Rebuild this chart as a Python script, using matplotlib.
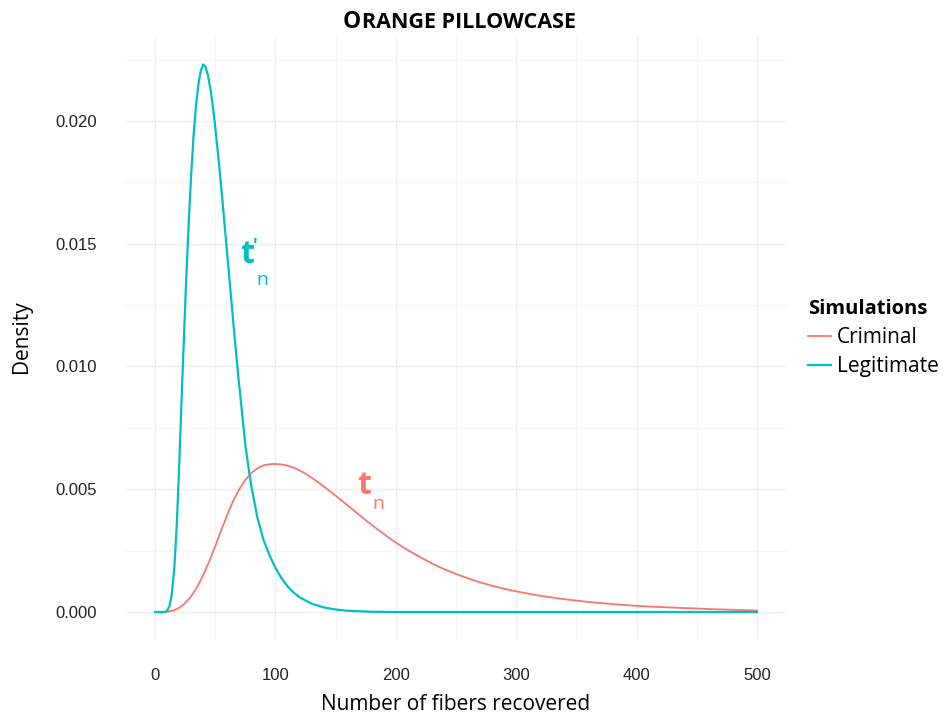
import matplotlib
matplotlib.use("Agg")
import matplotlib.pyplot as plt
from matplotlib.ticker import MultipleLocator

# Values
legit_x = [0, 8, 10, 12, 14, 16, 18, 20, 22, 24, 26, 28, 30, 32, 34, 36, 38, 40,
           42, 44, 46, 48, 50, 52, 54, 56, 58, 60, 62, 64, 66, 68, 70, 72, 75, 78,
           80, 85, 90, 95, 100, 105, 110, 115, 120, 130, 140, 150, 160, 180, 200,
           300, 400, 500]
legit_y = [0, 0, 0.00004, 0.00025, 0.00075, 0.0018, 0.0035, 0.0059, 0.0086, 0.0112,
           0.0137, 0.0159, 0.0178, 0.0194, 0.0206, 0.0215, 0.02205, 0.0223,
           0.0222, 0.02185, 0.0213, 0.0206, 0.01975, 0.0188, 0.0178, 0.01675,
           0.01565, 0.01455, 0.01345, 0.01235, 0.01125, 0.0102, 0.0092, 0.00825,
           0.0068, 0.00575, 0.00512, 0.00385, 0.00295, 0.00232, 0.0018, 0.00138,
           0.00105, 0.0008, 0.0006, 0.00034, 0.00019, 0.0001, 0.00005, 0.00001, 0,
           0, 0, 0]

crim_x = [0, 5, 10, 15, 20, 25, 30, 35, 40, 45, 50, 55, 60, 65, 70, 75, 80, 85, 90,
          95, 100, 105, 110, 115, 120, 125, 130, 135, 140, 145, 150, 155, 160, 165,
          170, 175, 180, 185, 190, 195, 200, 205, 210, 215, 220, 230, 240, 250, 260,
          270, 280, 290, 300, 320, 340, 360, 380, 400, 420, 440, 460, 480, 500]
crim_y = [0, 0, 0.00001, 0.00006, 0.00017, 0.00036, 0.00064, 0.00102, 0.0015,
          0.00206, 0.00268, 0.00333, 0.00396, 0.00453, 0.005, 0.00538, 0.00566,
          0.00585, 0.00597, 0.00602, 0.00603, 0.00601, 0.00596, 0.00588, 0.00577,
          0.00563, 0.00547, 0.0053, 0.00512, 0.00493, 0.00474, 0.00454, 0.00434,
          0.00414, 0.00394, 0.00374, 0.00355, 0.00336, 0.00318, 0.003, 0.00283,
          0.00267, 0.00252, 0.00238, 0.00224, 0.00198, 0.00175, 0.00155, 0.00137,
          0.00121, 0.00107, 0.00095, 0.00084, 0.00066, 0.00052, 0.00041, 0.00032,
          0.00025, 0.0002, 0.00016, 0.00012, 0.00009, 0.00006]

series_names = ["Criminal", "Legitimate"]
colors = ["#F8766D", "#00BFC4"]
x_ticks = [0, 100, 200, 300, 400, 500]
y_ticks = [0.000, 0.005, 0.010, 0.015, 0.020]

fig = plt.figure(figsize=(9.46, 7.15), dpi=100)
ax = fig.add_axes([0.1321, 0.1063, 0.6998, 0.8447])

ax.plot(crim_x, crim_y, color=colors[0], lw=1.3, label=series_names[0])
ax.plot(legit_x, legit_y, color=colors[1], lw=1.6, label=series_names[1])

ax.set_xlim(-25, 525)
ax.set_ylim(-0.0011, 0.0235)
ax.set_xticks(x_ticks)
ax.set_xticklabels([str(v) for v in x_ticks])
ax.set_yticks(y_ticks)
ax.set_yticklabels([f"{v:.3f}" for v in y_ticks])
ax.xaxis.set_minor_locator(MultipleLocator(50))
ax.yaxis.set_minor_locator(MultipleLocator(0.0025))
ax.grid(which="major", color="#EEEEEE", lw=0.9)
ax.grid(which="minor", color="#F4F4F4", lw=0.6)
ax.set_axisbelow(True)
for s in ax.spines.values():
    s.set_visible(False)
ax.tick_params(which="both", length=0)
ax.tick_params(axis="y", labelsize=12, pad=20, labelcolor="#222222")
ax.tick_params(axis="x", labelsize=12, pad=21, labelcolor="#222222")
for lab in ax.get_xticklabels() + ax.get_yticklabels():
    lab.set_family("Liberation Sans")

ax.set_xlabel("Number of fibers recovered", family="Open Sans", fontsize=15, labelpad=8)
ax.set_ylabel("Density", family="Open Sans", fontsize=15, labelpad=17)


def curve_label(x, y, color, prime, sub_dx, sub_dy):
    # bold "t", optional prime, and a regular-weight subscript "n" (offsets in points)
    ax.text(x, y, "t", color=color, family="Open Sans", weight="bold", fontsize=23,
            va="baseline", ha="left")
    if prime:
        ax.annotate("\u2032", xy=(x, y), xytext=(9.5, 8.5), textcoords="offset points",
                    color=color, family=["Open Sans", "DejaVu Sans"], weight="bold",
                    fontsize=13, va="baseline", ha="left")
    ax.annotate("n", xy=(x, y), xytext=(sub_dx, sub_dy), textcoords="offset points",
                color=color, family="Open Sans", fontsize=14, va="baseline", ha="left")


curve_label(70.6, 0.01422, colors[1], True, 12, -16)
curve_label(167.8, 0.0048, colors[0], False, 11, -11)

# small-caps title: a big "O" followed by smaller capitals on the same baseline
t1 = fig.text(343 / 946, 1 - 28 / 715, "O", family="Open Sans", weight="bold",
              fontsize=16.5, va="baseline", ha="left")
renderer = fig.canvas.get_renderer()
x_end = fig.transFigure.inverted().transform(t1.get_window_extent(renderer).get_points())[1, 0]
fig.text(x_end + 0.001, 1 - 28 / 715, "RANGE PILLOWCASE", family="Open Sans", weight="bold",
         fontsize=15.5, va="baseline", ha="left")

leg = ax.legend(title="Simulations", loc="upper left", bbox_to_anchor=(789 / 946, 1 - 280 / 715),
                bbox_transform=fig.transFigure, frameon=False,
                prop={"family": "Open Sans", "size": 15},
                handlelength=1.1, handletextpad=0.3, labelspacing=0.4)
leg.get_title().set_fontweight("bold")
leg.get_title().set_family("Open Sans")
leg.get_title().set_fontsize(14.5)
leg._legend_box.align = "left"

fig.savefig("out.png", dpi=100)
